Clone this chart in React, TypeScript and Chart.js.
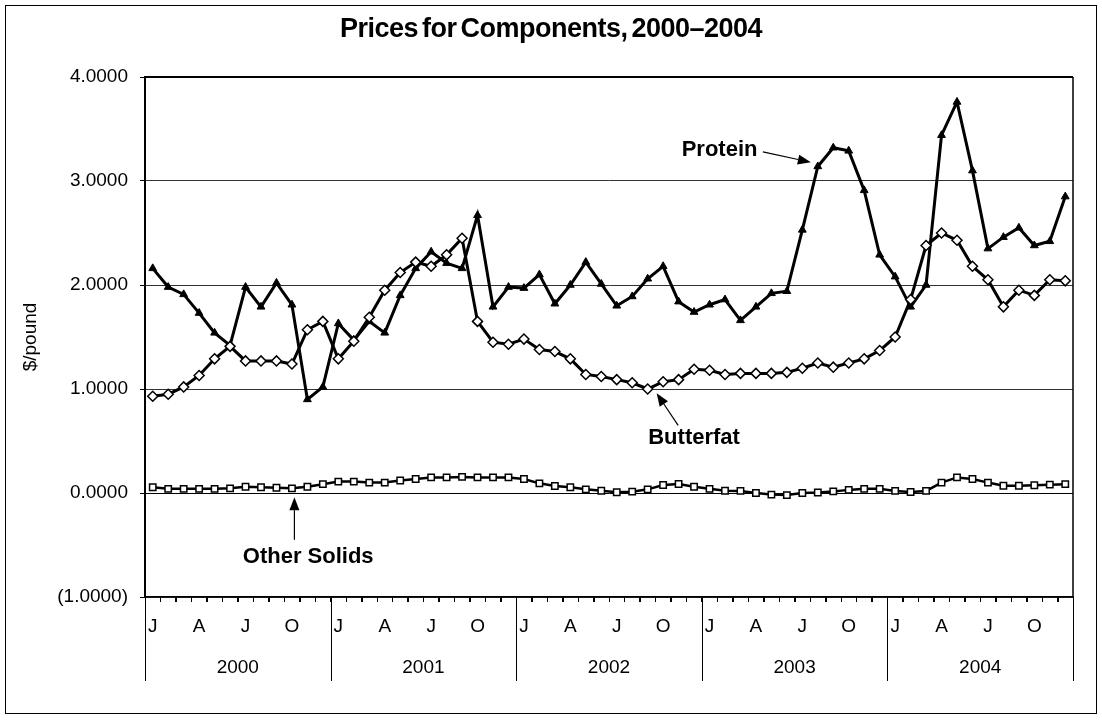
import React, { useEffect, useRef } from "react";
import { Chart, registerables } from "chart.js";

Chart.register(...registerables);

const years = ["2000", "2001", "2002", "2003", "2004"];
const monthLetters = ["J", "F", "M", "A", "M", "J", "J", "A", "S", "O", "N", "D"];
const shownMonthIdx = [0, 3, 6, 9];

const protein = [
  2.16, 1.98, 1.91, 1.73, 1.54, 1.42, 1.98, 1.79, 2.02, 1.81, 0.9, 1.02,
  1.63, 1.47, 1.65, 1.54, 1.9, 2.16, 2.32, 2.21, 2.16, 2.67, 1.79, 1.98,
  1.97, 2.1, 1.82, 2.0, 2.22, 2.01, 1.8, 1.89, 2.06, 2.18, 1.84, 1.74,
  1.81, 1.86, 1.66, 1.79, 1.92, 1.94, 2.53, 3.14, 3.32, 3.29, 2.91, 2.29,
  2.08, 1.79, 2.0, 3.44, 3.76, 3.1, 2.35, 2.46, 2.55, 2.38, 2.42, 2.85,
];

const butterfat = [
  0.93, 0.95, 1.02, 1.13, 1.29, 1.41, 1.27, 1.27, 1.27, 1.24, 1.57, 1.65,
  1.29, 1.46, 1.69, 1.95, 2.12, 2.22, 2.18, 2.29, 2.45, 1.65, 1.45, 1.43,
  1.48, 1.38, 1.36, 1.29, 1.14, 1.12, 1.09, 1.06, 1.0, 1.07, 1.09, 1.19,
  1.18, 1.14, 1.15, 1.15, 1.15, 1.16, 1.2, 1.25, 1.21, 1.25, 1.29, 1.37,
  1.5, 1.86, 2.38, 2.5, 2.43, 2.18, 2.05, 1.79, 1.95, 1.9, 2.05, 2.04,
];

const otherSolids = [
  0.055, 0.04, 0.04, 0.04, 0.04, 0.045, 0.06, 0.055, 0.05, 0.045, 0.06, 0.085,
  0.11, 0.11, 0.1, 0.1, 0.12, 0.135, 0.15, 0.15, 0.155, 0.15, 0.15, 0.15,
  0.135, 0.093, 0.067, 0.055, 0.035, 0.022, 0.007, 0.013, 0.035, 0.077, 0.087, 0.06,
  0.04, 0.022, 0.02, 0.0, -0.015, -0.02, 0.0, 0.005, 0.015, 0.03, 0.04, 0.04,
  0.02, 0.01, 0.02, 0.1, 0.15, 0.135, 0.1, 0.07, 0.07, 0.075, 0.08, 0.085,
];

const categories: string[] = [];
years.forEach((yr) => monthLetters.forEach((m) => categories.push(m + " " + yr)));

const titleText = "Prices for Components, 2000\u20132004";
const yAxisTitle = "$/pound";
const FONT = '"Liberation Sans", Arial, sans-serif';

// annotation anchors in data coordinates (category index, value)
const annotations = [
  { text: "Protein", tx: 39.1, ty: 3.3, align: "right", ax1: 39.45, ay1: 3.28, ax2: 42.55, ay2: 3.18 },
  { text: "Butterfat", tx: 35.0, ty: 0.53, align: "center", ax1: 33.97, ay1: 0.65, ax2: 32.58, ay2: 0.96 },
  { text: "Other Solids", tx: 10.05, ty: -0.61, align: "center", ax1: 9.16, ay1: -0.45, ax2: 9.16, ay2: -0.04 },
];

function drawArrow(ctx: CanvasRenderingContext2D, x1: number, y1: number, x2: number, y2: number) {
  const ang = Math.atan2(y2 - y1, x2 - x1);
  const hl = 13;
  const hw = 5;
  const bx = x2 - hl * Math.cos(ang);
  const by = y2 - hl * Math.sin(ang);
  ctx.beginPath();
  ctx.moveTo(x1, y1);
  ctx.lineTo(bx, by);
  ctx.lineWidth = 1.2;
  ctx.strokeStyle = "#000";
  ctx.stroke();
  ctx.beginPath();
  ctx.moveTo(x2, y2);
  ctx.lineTo(bx + hw * Math.sin(ang), by - hw * Math.cos(ang));
  ctx.lineTo(bx - hw * Math.sin(ang), by + hw * Math.cos(ang));
  ctx.closePath();
  ctx.fillStyle = "#000";
  ctx.fill();
}

const decorPlugin = {
  id: "decor",
  afterDraw(chart: any) {
    const { ctx, chartArea: ca, scales } = chart;
    const x = scales.x;
    const y = scales.y;
    ctx.save();
    // outer frame
    ctx.strokeStyle = "#000";
    ctx.lineWidth = 1;
    ctx.strokeRect(5.5, 5.5, 1091, 708);

    // plot top & right border
    ctx.lineWidth = 2;
    ctx.beginPath();
    ctx.moveTo(ca.left, ca.top);
    ctx.lineTo(ca.right, ca.top);
    ctx.stroke();
    ctx.lineWidth = 1.5;
    ctx.beginPath();
    ctx.moveTo(ca.right, ca.top);
    ctx.lineTo(ca.right, ca.bottom);
    ctx.stroke();

    // title
    ctx.fillStyle = "#000";
    ctx.font = "bold 27px " + FONT;
    ctx.textAlign = "center";
    ctx.textBaseline = "alphabetic";
    try {
      (ctx as any).letterSpacing = "-0.5px";
      (ctx as any).wordSpacing = "-3px";
    } catch (e) {}
    ctx.fillText(titleText, 551, 37);
    try {
      (ctx as any).letterSpacing = "0px";
      (ctx as any).wordSpacing = "0px";
    } catch (e) {}

    // y axis title
    ctx.save();
    ctx.translate(31, (ca.top + ca.bottom) / 2);
    ctx.rotate(-Math.PI / 2);
    ctx.font = "19px " + FONT;
    ctx.textAlign = "center";
    ctx.textBaseline = "middle";
    ctx.fillText(yAxisTitle, 0, 0);
    ctx.restore();

    // minor ticks, year separators and labels
    const step = x.getPixelForValue(1) - x.getPixelForValue(0);
    const boundary = (i: number) => x.getPixelForValue(i) - step / 2;
    ctx.lineWidth = 1;
    ctx.strokeStyle = "#000";
    for (let i = 0; i <= categories.length; i++) {
      const px = Math.round(boundary(i)) + 0.5;
      ctx.beginPath();
      ctx.moveTo(px, ca.bottom);
      ctx.lineTo(px, ca.bottom + 5);
      ctx.stroke();
    }
    for (let k = 0; k <= years.length; k++) {
      const px = Math.round(boundary(k * 12)) + 0.5;
      ctx.beginPath();
      ctx.moveTo(px, ca.bottom);
      ctx.lineTo(px, ca.bottom + 84);
      ctx.stroke();
    }
    ctx.font = "19px " + FONT;
    ctx.textAlign = "center";
    ctx.textBaseline = "middle";
    years.forEach((yr, k) => {
      const cx = (boundary(k * 12) + boundary(k * 12 + 12)) / 2;
      ctx.fillText(yr, cx, ca.bottom + 71);
    });

    // annotations
    ctx.font = "bold 22px " + FONT;
    ctx.textBaseline = "middle";
    annotations.forEach((a) => {
      ctx.textAlign = a.align as CanvasTextAlign;
      ctx.fillStyle = "#000";
      ctx.fillText(a.text, x.getPixelForValue(a.tx), y.getPixelForValue(a.ty));
      drawArrow(
        ctx,
        x.getPixelForValue(a.ax1),
        y.getPixelForValue(a.ay1),
        x.getPixelForValue(a.ax2),
        y.getPixelForValue(a.ay2)
      );
    });
    ctx.restore();
  },
};

export default function App() {
  const canvasRef = useRef<HTMLCanvasElement | null>(null);

  useEffect(() => {
    if (!canvasRef.current) return;
    const chart = new Chart(canvasRef.current, {
      type: "line",
      data: {
        labels: categories,
        datasets: [
          {
            label: "Butterfat",
            data: butterfat,
            borderColor: "#000",
            borderWidth: 3,
            pointStyle: "rectRot",
            pointRadius: 5,
            pointBackgroundColor: "#fff",
            pointBorderColor: "#000",
            pointBorderWidth: 1.5,
            tension: 0,
          },
          {
            label: "Protein",
            data: protein,
            borderColor: "#000",
            borderWidth: 3,
            pointStyle: "triangle",
            pointRadius: 4.5,
            pointBackgroundColor: "#000",
            pointBorderColor: "#000",
            pointBorderWidth: 1,
            tension: 0,
          },
          {
            label: "Other Solids",
            data: otherSolids,
            borderColor: "#000",
            borderWidth: 2.5,
            pointStyle: "rect",
            pointRadius: 4.5,
            pointBackgroundColor: "#fff",
            pointBorderColor: "#000",
            pointBorderWidth: 1.5,
            tension: 0,
          },
        ],
      },
      options: {
        responsive: false,
        animation: false,
        devicePixelRatio: 1,
        layout: { padding: { top: 77, right: 29, left: 0, bottom: 0 } },
        plugins: {
          legend: { display: false },
          title: { display: false },
          tooltip: { enabled: false },
        },
        scales: {
          x: {
            type: "category",
            offset: true,
            grid: {
              display: true,
              drawOnChartArea: false,
              drawTicks: true,
              tickLength: 5,
              color: "#000",
              lineWidth: 1,
              offset: true,
            },
            border: { display: true, color: "#000", width: 1.5 },
            ticks: {
              autoSkip: false,
              maxRotation: 0,
              minRotation: 0,
              padding: 13,
              color: "#000",
              font: { family: FONT, size: 19 },
              callback: (_v: any, i: number) =>
                shownMonthIdx.includes(i % 12) ? monthLetters[i % 12] : "",
            },
            afterFit: (scale: any) => {
              scale.height = 126;
            },
          },
          y: {
            min: -1,
            max: 4,
            ticks: {
              stepSize: 1,
              padding: 12,
              color: "#000",
              font: { family: FONT, size: 19 },
              callback: (v: any) =>
                v < 0 ? "(" + Math.abs(v).toFixed(4) + ")" : Number(v).toFixed(4),
            },
            grid: {
              color: (c: any) => (c.tick && c.tick.value === 0 ? "#000" : "#333"),
              lineWidth: 1,
              drawTicks: true,
              tickLength: 5,
              tickColor: "#000",
            },
            border: { display: true, color: "#000", width: 2 },
            afterFit: (scale: any) => {
              scale.width = 145;
            },
          },
        },
      },
      plugins: [decorPlugin],
    });
    return () => chart.destroy();
  }, []);

  return (
    <div style={{ position: "fixed", left: 0, top: 0, width: 1102, height: 723, background: "#fff" }}>
      <canvas ref={canvasRef} width={1102} height={723} style={{ display: "block" }} />
    </div>
  );
}
